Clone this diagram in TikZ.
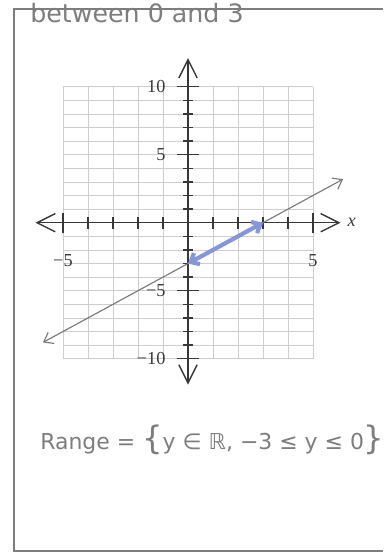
\documentclass[tikz,border=0pt]{standalone}
\usepackage{fontspec}
\setmainfont{Liberation Serif}
\newfontfamily\hand{DejaVu Sans}
\usetikzlibrary{arrows.meta,positioning,calc}
\definecolor{pencil}{RGB}{125,125,125}
\definecolor{axisgray}{RGB}{55,55,55}
\definecolor{gridgray}{RGB}{205,205,205}
\definecolor{linegray}{RGB}{120,120,120}
\definecolor{inkblue}{RGB}{135,150,215}

\begin{document}
\begin{tikzpicture}[x=0.025cm,y=-0.025cm,every node/.style={font=\fontsize{13}{15}\selectfont,text=axisgray}]
\tikzstyle{gl}=[draw=gridgray,line width=0.45pt]
\tikzstyle{ax}=[draw=axisgray,line width=1pt]
\tikzstyle{hw}=[text=pencil,font=\hand\fontsize{15.6}{18}\selectfont,inner sep=0pt]
\tikzstyle{big}=[{Straight Barb[length=13pt,width=13pt]}-{Straight Barb[length=13pt,width=13pt]}]
\newcommand{\brc}[1]{{\fontsize{23}{23}\selectfont#1}}
\useasboundingbox (0,0) rectangle (383,560);
\draw[pencil,line width=0.9pt] (383,9) -- (14,9) -- (14,551) -- (383,551);
\node[hw,font=\hand\fontsize{18}{20}\selectfont,anchor=base west] (top) at (30,22) {between 0 and 3};
\node[hw,anchor=west] (range) at (40,440) {Range = \brc{\{}y ∈ ℝ, −3 ≤ y ≤ 0\brc{\}}};
\begin{scope}[shift={(188,222.7)},x=0.625cm,y=0.34cm]
% grid
\foreach \i in {-5,...,5} \draw[gl] (\i,-10) -- (\i,10);
\foreach \j in {-10,...,10} \draw[gl] (-5,\j) -- (5,\j);
% axes
\coordinate (xl) at (-6.1,0); \coordinate (xr) at (6.1,0);
\coordinate (yb) at (0,-11.9); \coordinate (yt) at (0,12.1);
\draw[ax,big] (xl) -- (xr);
\draw[ax,big] (yb) -- (yt);
\foreach \i in {-4,...,-1,1,2,3,4} \draw[ax] (\i,-0.45) -- (\i,0.45);
\foreach \i in {-5,5} \draw[ax] (\i,-0.75) -- (\i,0.75);
\foreach \j in {-9,...,-6,-4,-3,-2,-1,1,2,3,4,6,7,8,9} \draw[ax] (-0.2,\j) -- (0.2,\j);
\foreach \j in {-10,-5,5,10} \draw[ax] (-0.45,\j) -- (0.45,\j);
\node[anchor=east] (l10) at (-0.7,10) {10};
\node[anchor=east] (l5) at (-0.7,5) {5};
\node[anchor=east] (lm5) at (-0.7,-5) {−5};
\node[anchor=east] (lm10) at (-0.7,-10) {−10};
\node (xm5) at (-5,-2.75) {−5};
\node (x5) at (5,-2.75) {5};
\node (xlab) at (6.55,0) {\itshape x};
% line y = x - 3
\coordinate (la) at (-5.8,-8.8); \coordinate (lb) at (6.2,3.2);
\draw[linegray,line width=0.8pt,{Straight Barb[length=6pt,width=9pt]}-{Straight Barb[length=6pt,width=9pt]}] (la) -- (lb);
% range part
\coordinate (yi) at (0,-3); \coordinate (xi) at (3,0);
\draw[inkblue,line width=3pt,line cap=round,{Straight Barb[length=5pt,width=9pt]}-{Straight Barb[length=5pt,width=9pt]}] (yi) -- (xi);
\end{scope}
\end{tikzpicture}
\end{document}
